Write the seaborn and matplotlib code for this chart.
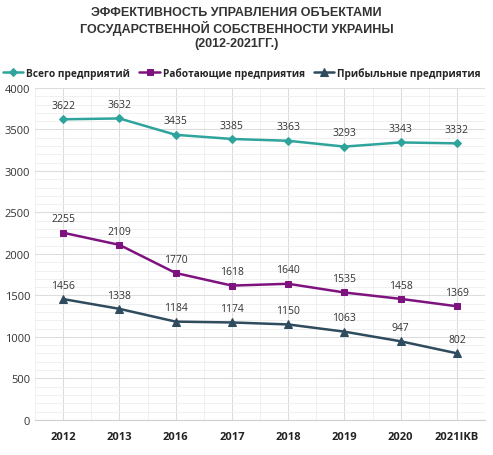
import numpy as np
import pandas as pd
import matplotlib
matplotlib.use('Agg')
import matplotlib.pyplot as plt
from matplotlib.ticker import MultipleLocator
import seaborn as sns

years = ['2012', '2013', '2016', '2017', '2018', '2019', '2020', '2021IKB']
total = [3622, 3632, 3435, 3385, 3363, 3293, 3343, 3332]
working = [2255, 2109, 1770, 1618, 1640, 1535, 1458, 1369]
profitable = [1456, 1338, 1184, 1174, 1150, 1063, 947, 802]

series_names = ['Всего предприятий', 'Работающие предприятия', 'Прибыльные предприятия']
colors = ['#2ea49c', '#7e137f', '#2f4b5e']
markers = ['D', 's', '^']
msizes = [4, 5, 5.5]

sns.set_style('white')
plt.rcParams['font.family'] = ['Open Sans', 'DejaVu Sans']

df = pd.DataFrame({'year': years, series_names[0]: total,
                   series_names[1]: working, series_names[2]: profitable})
long = df.melt(id_vars='year', var_name='series', value_name='value')
long['x'] = long['year'].map({y: i for i, y in enumerate(years)})

fig = plt.figure(figsize=(4.93, 4.56), dpi=100)
ax = fig.add_axes([0.071, 0.077, 0.913, 0.728])

for name, c, m, ms in zip(series_names, colors, markers, msizes):
    sub = long[long['series'] == name]
    sns.lineplot(data=sub, x='x', y='value', ax=ax, color=c, marker=m,
                 markersize=ms, markeredgecolor=c, linewidth=1.8, label=name)
    for xv, yv in zip(sub['x'], sub['value']):
        ax.annotate(str(yv), (xv, yv), textcoords='offset points', xytext=(0, 6),
                    ha='center', va='bottom', fontsize=7.5, color='#333333')

ax.set_xlim(-0.5, len(years) - 0.5)
ax.set_ylim(0, 4000)
ax.yaxis.set_major_locator(MultipleLocator(500))
ax.yaxis.set_minor_locator(MultipleLocator(100))
ax.set_xticks(range(len(years)))
ax.set_xticklabels(years, fontweight='bold', fontsize=8, color='#222222')
ax.set_xticks(np.arange(-0.5, len(years), 1.0), minor=True)
ax.tick_params(axis='y', labelsize=8, colors='#333333', length=0, which='both')
ax.tick_params(axis='x', length=0, which='both', pad=8)
ax.grid(True, which='major', color='#dddddd', linewidth=0.8)
ax.grid(True, which='minor', color='#eeeeee', linewidth=0.6)
ax.set_axisbelow(True)
for s in ['top', 'right', 'left']:
    ax.spines[s].set_visible(False)
ax.spines['bottom'].set_color('#d0d0d0')
ax.set_xlabel('')
ax.set_ylabel('')

ax.legend(loc='lower center', bbox_to_anchor=(0.46, 1.0), ncol=3, frameon=False,
          handlelength=2.0, handletextpad=0.3, columnspacing=0.9, markerscale=1.0,
          prop={'weight': 'bold', 'size': 7.3})

fig.text(0.48, 0.985, 'ЭФФЕКТИВНОСТЬ УПРАВЛЕНИЯ ОБЪЕКТАМИ\nГОСУДАРСТВЕННОЙ СОБСТВЕННОСТИ УКРАИНЫ\n(2012-2021ГГ.)',
         ha='center', va='top', fontsize=9, fontweight='bold', color='#333333',
         family=['Liberation Sans', 'DejaVu Sans'], linespacing=1.2)

fig.savefig('out.png', dpi=100)
